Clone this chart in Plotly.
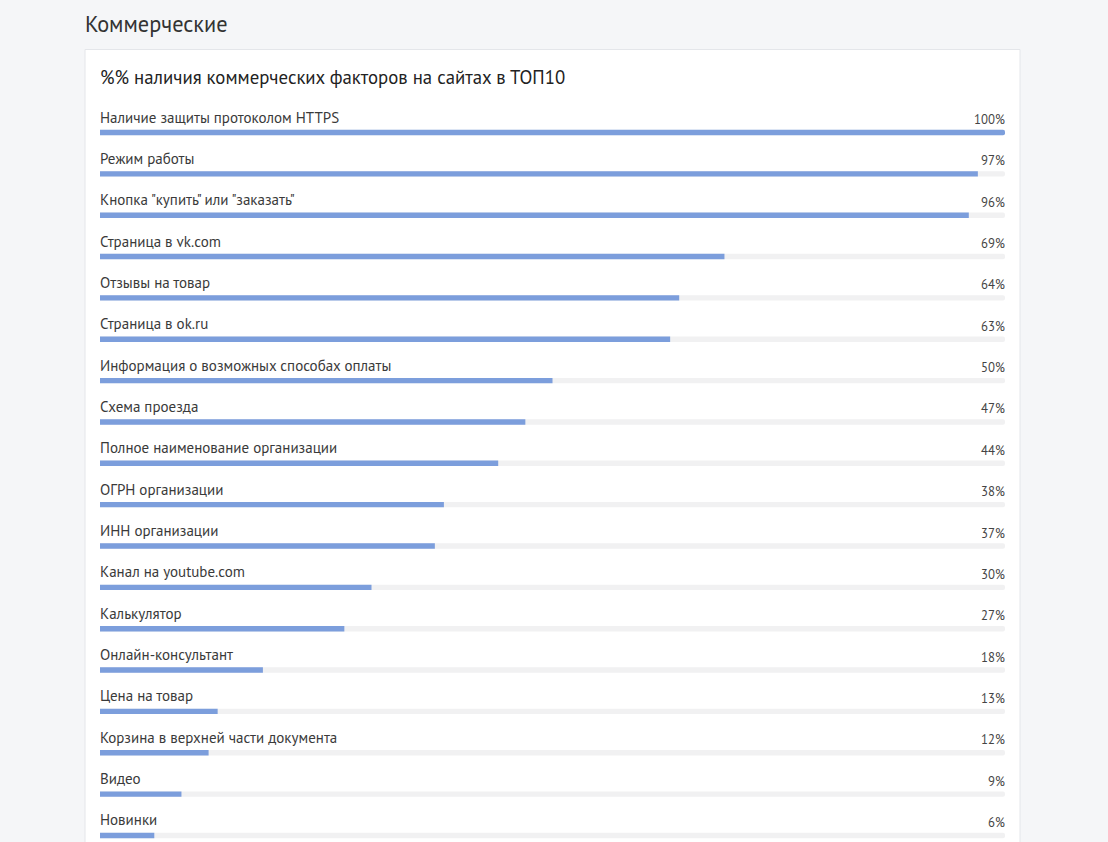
import plotly.graph_objects as go

categories = [
    "Наличие защиты протоколом HTTPS",
    "Режим работы",
    "Кнопка \"купить\" или \"заказать\"",
    "Страница в vk.com",
    "Отзывы на товар",
    "Страница в ok.ru",
    "Информация о возможных способах оплаты",
    "Схема проезда",
    "Полное наименование организации",
    "ОГРН организации",
    "ИНН организации",
    "Канал на youtube.com",
    "Калькулятор",
    "Онлайн-консультант",
    "Цена на товар",
    "Корзина в верхней части документа",
    "Видео",
    "Новинки",
]
values = [100, 97, 96, 69, 64, 63, 50, 47, 44, 38, 37, 30, 27, 18, 13, 12, 9, 6]
track = [100] * len(values)

page_title = "Коммерческие"
card_title = "%% наличия коммерческих факторов на сайтах в ТОП10"

W, H = 1108, 842
L, R = 100, 1005          # plot area pixel x
ROW0, STEP = 132.5, 41.35   # pixel y of first bar, row spacing

ys = list(range(len(values)))
y_top = -ROW0 / STEP
y_bot = (H - ROW0) / STEP

FONT = "PT Sans, Noto Sans, sans-serif"

fig = go.Figure()
fig.add_trace(go.Bar(x=track, y=ys, orientation="h", width=0.13,
                     marker=dict(color="#f1f1f2", cornerradius="50%", line_width=0),
                     hoverinfo="skip"))
fig.add_trace(go.Bar(x=values, y=ys, orientation="h", width=0.13,
                     marker=dict(color="#7c9edc", cornerradius="50%", line_width=0),
                     hoverinfo="skip"))

annotations = []
for i, (c, v) in enumerate(zip(categories, values)):
    annotations.append(dict(x=0, y=i, xref="x", yref="y", text=c, showarrow=False,
                            xanchor="left", yanchor="middle", yshift=15.5, xshift=-2,
                            font=dict(family=FONT, size=15, color="#3a3a3a")))
    annotations.append(dict(x=100, y=i, xref="x", yref="y", text=f"{v}%", showarrow=False,
                            xanchor="right", yanchor="middle", yshift=13, xshift=2,
                            font=dict(family=FONT, size=12.8, color="#444444")))

def px_x(p):
    return (p - L) / (R - L)

def px_y(p):
    return 1 - p / H

annotations.append(dict(x=px_x(85), y=px_y(24), xref="paper", yref="paper", text=page_title,
                        showarrow=False, xanchor="left", yanchor="middle", xshift=-2,
                        font=dict(family=FONT, size=22.3, color="#333333")))
annotations.append(dict(x=px_x(100), y=px_y(77), xref="paper", yref="paper", text=card_title,
                        showarrow=False, xanchor="left", yanchor="middle", xshift=-2,
                        font=dict(family=FONT, size=18.8, color="#222222")))

shapes = [dict(type="rect", xref="paper", yref="paper", layer="below",
               x0=px_x(85), x1=px_x(1020), y0=-0.05, y1=px_y(49.5),
               fillcolor="#ffffff", line=dict(color="#e4e6ea", width=1))]

fig.update_layout(
    width=W, height=H,
    margin=dict(l=L, r=W - R, t=0, b=0),
    paper_bgcolor="#f5f6f8", plot_bgcolor="rgba(0,0,0,0)",
    barmode="overlay", showlegend=False,
    xaxis=dict(range=[0, 100], visible=False, fixedrange=True),
    yaxis=dict(range=[y_bot, y_top], visible=False, fixedrange=True),
    annotations=annotations, shapes=shapes,
    font=dict(family=FONT),
)
fig.write_html("out.html")
